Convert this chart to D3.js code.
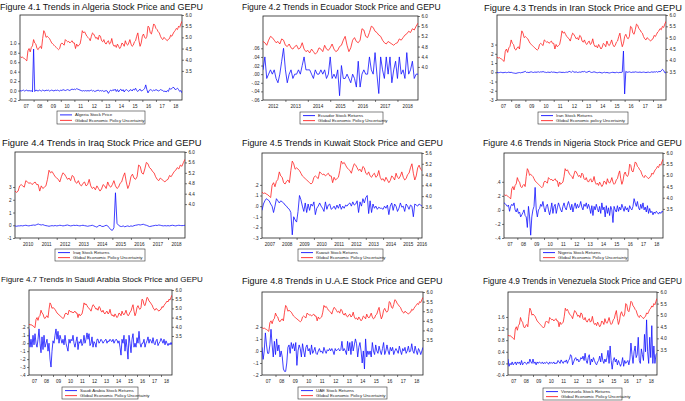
<!DOCTYPE html>
<html><head><meta charset="utf-8">
<script src="https://cdn.jsdelivr.net/npm/d3@7"></script>
<style>body{margin:0;background:#fff}svg{display:block}</style>
</head><body>
<svg id="c" width="685" height="401"></svg>
<script>
// ---------- DATA ----------
// Global Economic Policy Uncertainty (log), monthly 2007-01 .. 2018-12
const gepu = [
4.15,4.10,4.12,4.08,4.05,4.00,3.95,4.40,4.50,4.35,4.55,4.62,
4.90,4.75,4.70,4.50,4.45,4.55,4.60,4.50,4.95,5.30,5.20,5.00,
5.05,5.00,4.95,4.85,4.75,4.70,4.65,4.60,4.55,4.50,4.45,4.50,
4.70,4.75,4.70,4.65,4.90,4.85,4.80,4.82,4.75,4.80,4.85,4.75,
4.75,4.50,4.70,4.60,4.65,4.70,4.95,5.30,5.20,5.25,5.15,5.05,
5.00,4.95,4.85,5.05,5.20,5.15,5.05,4.95,5.00,4.90,5.10,5.05,
4.85,4.80,4.90,4.75,4.70,4.80,4.85,4.70,4.75,4.95,4.70,4.60,
4.65,4.55,4.70,4.60,4.50,4.58,4.75,4.70,4.60,4.85,4.70,4.65,
4.75,4.90,4.70,4.60,4.65,4.80,4.85,5.05,5.20,4.85,4.60,4.75,
5.05,5.15,5.00,4.95,5.05,5.50,5.45,5.20,5.15,5.35,5.60,5.55,
5.40,5.35,5.25,5.20,5.05,4.95,4.90,5.00,4.95,4.90,4.85,4.92,
4.95,5.10,5.05,5.15,5.25,5.30,5.40,5.35,5.50,5.45,5.60,5.72];

// Algeria stock price, 2007-01 .. 2018-12
const algeria = [
0.00,-0.01,0.00,0.01,-0.01,0.00,0.01,-0.01,0.00,-0.01,0.00,-0.03,
0.88,-0.02,0.01,0.00,-0.01,0.01,0.00,-0.01,0.01,0.00,-0.01,0.01,
0.00,0.01,-0.01,0.00,0.01,0.00,-0.01,0.01,0.00,0.01,0.00,-0.01,
0.01,0.00,0.02,0.01,0.00,0.01,0.02,0.01,0.00,0.02,0.03,0.02,
0.03,0.02,0.04,0.03,0.02,0.01,0.00,-0.01,0.00,-0.01,0.00,-0.01,
0.00,-0.01,0.00,0.01,-0.01,0.00,-0.02,-0.01,0.00,0.01,-0.01,0.00,
-0.01,0.00,-0.02,-0.01,0.00,-0.01,-0.06,-0.02,0.01,-0.01,0.02,0.00,
0.03,-0.02,0.02,-0.03,0.01,0.03,-0.01,0.02,-0.03,0.01,0.02,0.00,
-0.02,0.01,0.02,-0.01,0.03,0.01,0.05,0.00,-0.02,0.01,0.03,-0.01,
0.00,0.02,0.04,0.12,0.02,-0.05,0.00,0.02,0.01,-0.01,0.01,0.00,
0.02,0.01,-0.01,0.00,0.02,0.01,0.00,-0.02,-0.01,-0.03,0.00,-0.02,
0.05,0.03,0.04,0.07,0.06,0.02,0.03,0.05,0.02,-0.02,0.00,-0.05];

// Ecuador stock returns, 2012-01 .. 2018-12
const ecuador = [
.01,.04,-.01,.00,.01,.00,.01,-.01,-.02,.00,.03,.06,
.01,-.02,.00,.01,-.01,.00,.00,.01,.00,.02,.04,.01,
.01,.01,.00,-.01,.01,.00,.00,.01,.00,.01,-.01,.00,
.04,-.01,.00,-.01,.01,-.05,.02,-.01,-.01,.00,-.01,-.02,
.00,-.01,-.03,.03,-.03,.00,.01,.00,.00,.04,.01,.00,
.05,.00,-.045,.04,.01,-.01,.04,.00,.04,-.02,.01,.03,
-.01,.04,.00,.01,-.01,.05,.00,.01,.03,-.01,.00,.00];

// Iran stock returns, 2007-01 .. 2018-12
const iran = [
.00,-.05,-.03,.00,-.02,-.05,-.03,.00,-.04,-.02,.02,-.03,
.00,-.05,-.08,-.10,-.12,-.08,-.05,-.03,-.06,-.02,.00,.05,
.10,-.02,.00,-.03,.02,.05,.00,-.02,.03,.00,.02,.05,
.00,.05,.03,.08,.02,.00,-.03,.02,.00,-.02,.05,.00,
.02,.00,-.03,-.05,.00,.02,.00,-.02,.00,-.03,.00,.02,
.00,.10,.05,.00,.12,.03,.00,.05,-.02,.00,.03,.00,
.08,.05,.10,.02,.00,.05,.12,.03,-.02,.00,.05,.02,
-.03,-.05,-.02,.00,-.05,-.08,-.03,.00,-.05,-.02,-.05,-.08,
-.05,-.02,.00,-.03,-.05,.00,-.02,-.05,.00,-.03,.02,2.30,
-2.35,.10,.00,.02,.05,.00,-.02,.03,.00,.05,.02,.00,
.00,.03,-.02,.00,.02,.00,-.03,.00,.02,-.02,.00,.05,
.00,.05,.02,.08,.00,.10,.05,.15,.32,.20,-.05,-.05];

// Iraq stock returns, 2009-10 .. 2018-12
const iraq = [
-.05,-.08,-.05,
-.05,-.03,-.05,-.02,.00,-.03,-.05,-.02,.00,.02,.00,.05,
.10,.05,.02,.05,.00,-.03,-.05,-.08,-.05,-.03,-.05,-.02,
-.05,-.03,.00,-.02,-.05,-.03,.00,.02,-.02,-.05,-.03,.00,
-.02,.00,-.03,-.05,-.02,.00,-.03,-.05,-.08,-.05,-.03,.00,
-.05,-.10,-.15,-.05,.00,-.08,-.10,-.05,.00,-.05,-.20,-.35,
-.40,-.20,2.55,.15,.00,-.08,-.10,-.05,-.12,-.08,-.05,-.10,
-.05,-.08,-.03,.00,.02,.05,.02,.05,.08,.03,.00,-.05,
-.10,-.08,-.05,-.03,.00,-.02,.02,.00,-.03,-.05,-.03,-.05,
-.03,-.05,-.02,.00,-.03,-.05,-.02,.00,-.02,-.03,-.02,.00];

// Kuwait stock returns, 2007-01 .. 2016-04
const kuwait = [
-.04,.02,.05,.07,.06,.05,.02,.00,-.06,.00,.07,.05,
.03,.05,.04,.03,.01,.00,-.02,-.03,-.06,-.27,-.10,-.13,
-.15,-.05,.10,.06,.00,-.05,.03,-.06,.02,-.04,.02,.00,
.04,-.08,-.02,.00,.03,.00,-.02,-.05,.04,-.03,.01,.02,
-.03,-.02,.00,-.03,.01,-.02,.02,-.03,.00,-.02,.01,.00,
.02,.03,.00,.04,.01,.02,.05,-.06,.04,.00,.07,.03,
.08,.10,-.07,.05,-.06,.02,-.02,.00,-.03,-.01,-.02,-.02,
-.03,.00,-.02,.01,-.08,.00,.03,-.04,.02,.00,-.05,-.02,
.03,-.01,.00,-.05,.02,.00,-.03,.01,.00,-.10,.02,.01,
.00,.02,.01,.00];

// Nigeria stock returns, 2007-01 .. 2018-12
const nigeria = [
.10,.09,.07,.05,.07,-.02,.05,.08,.06,.10,.00,-.03,
.02,-.05,-.03,-.10,-.07,-.04,.00,-.08,-.10,-.25,.05,-.10,
-.36,-.10,.00,.05,.32,.00,-.10,.00,.02,.08,.05,.12,
.03,-.03,.05,.08,.00,-.07,.00,.10,-.05,.05,.08,-.05,
.03,.10,.05,.00,-.03,.05,.10,.03,.00,.07,.12,.06,
.00,.08,-.03,.05,.10,.02,.08,.03,.06,.12,.04,.00,
.08,.05,.10,.02,.08,.03,-.05,.06,-.08,.05,.00,.08,
.02,-.03,.05,-.05,.10,.00,.04,-.10,.06,-.05,.03,-.08,
.05,.00,-.18,.05,.00,-.03,.06,-.02,.04,.00,.08,.03,
-.02,.05,.00,.03,-.03,.06,.02,.00,.05,.16,.10,.05,
.12,.03,.00,.08,.02,.10,.00,.04,-.03,.06,-.05,.02,
-.04,-.02,-.07,-.03,-.05,-.02,-.04,-.06,-.03,-.05,-.02,-.03];

// Saudi Arabia stock returns, 2007-01 .. 2018-12
const saudi = [
.18,-.05,.05,-.05,.10,-.02,.12,.00,-.05,.05,.18,.00,
-.12,.08,-.08,.10,-.05,.00,.05,-.10,.00,-.20,-.30,-.10,
.03,.00,.10,.18,.05,.15,.00,.10,.05,.00,.05,-.02,
.10,.00,-.05,-.10,.05,.00,.05,.03,.10,.00,-.05,.02,
.08,-.08,.02,.00,.05,-.03,.00,.10,.00,.05,.13,.05,
.12,-.03,.00,.08,-.05,.02,.00,-.05,.05,.05,.00,.02,
.05,.03,.00,.02,.04,.05,.00,.03,.02,.05,.03,.02,
.05,.00,.03,.05,.04,.00,.03,-.05,-.15,.05,.00,.10,
-.10,.05,-.05,-.20,.10,.00,-.12,.05,.12,-.05,.00,-.05,
.07,.00,.15,.00,-.05,.00,.00,.05,-.05,.00,.03,.08,
.00,.05,.03,.00,.07,.00,-.02,.03,.05,-.03,.00,.02,
.06,.03,.00,.05,-.02,.03,.00,-.03,.00,-.02,.01,-.02];

// UAE stock returns, 2007-01 .. 2018-12
const uae = [
.03,-.07,.00,.15,.05,-.02,-.02,.05,.18,.05,-.05,.08,
-.03,.10,.00,.05,-.05,.00,-.05,-.15,-.17,-.17,-.10,.03,
.05,-.02,.07,.02,.06,.00,.07,-.12,.00,.05,.02,-.05,
.06,.00,-.05,.03,.05,.00,.02,-.03,.05,-.02,.00,.03,
-.02,-.03,.00,.02,-.01,.00,-.02,.03,.00,-.02,.01,.00,
.02,.00,.02,.00,-.03,.02,.00,.01,.02,.00,.01,.08,
.00,.02,.00,-.03,.08,.00,.07,-.03,.08,.00,.05,.10,
.06,-.05,.03,.07,.00,-.10,.00,-.15,.10,-.05,.00,-.03,
.00,-.05,.07,.00,-.03,.05,.00,-.02,.04,.00,-.03,.02,
.07,-.03,.00,.05,.00,-.03,.03,.00,.03,-.03,.00,.02,
.00,-.02,.04,.00,-.03,.02,.00,.03,-.02,.00,.04,-.01,
.00,.06,.00,-.02,.04,.00,-.03,.02,.00,-.03,.00,.03];

// Venezuela stock returns, 2007-01 .. 2018-12
const venezuela = [
.15,-.10,.00,-.05,.05,-.05,.00,.05,-.05,.05,.00,.05,
-.05,.10,-.05,.00,.05,.00,-.03,.05,.00,.15,.05,.00,
.15,.00,.05,-.05,.05,.00,.05,.02,.00,.05,-.02,.03,
.00,.05,.02,-.03,.05,.00,.03,.00,.05,-.02,.02,.00,
.10,.05,.00,.12,.05,.00,.08,.05,.12,.00,.10,.15,
.30,.25,-.05,.05,.15,.20,.10,.15,.05,.10,.20,.15,
.25,.10,.35,.10,.00,.20,.30,-.05,.15,.05,.20,.10,
.00,-.05,.05,.10,.25,.05,.35,.10,.00,.15,.05,.20,
.45,.00,.60,.10,-.20,.10,.20,.05,.15,-.05,.10,.00,
-.10,.00,.20,-.10,.10,.00,.05,.10,-.05,.15,.70,.30,
.00,.40,.60,.20,.30,.90,.10,.00,.50,.30,.10,1.00,
.40,1.50,.40,.00,.90,.20,1.30,.00,.60,.00,.30,.35];

// Axis tick values and labels
const rightTicks35 = [3.5,4.0,4.5,5.0,5.5,6.0];
const rightLabels35 = ["3.5","4.0","4.5","5.0","5.5","6.0"];
const rightTicks40 = [4.0,4.4,4.8,5.2,5.6,6.0];
const rightLabels40 = ["4.0","4.4","4.8","5.2","5.6","6.0"];
const rightTicks36 = [3.6,4.0,4.4,4.8,5.2,5.6];
const rightLabels36 = ["3.6","4.0","4.4","4.8","5.2","5.6"];

const algeriaTicks = [-0.2,0,0.2,0.4,0.6,0.8,1.0];
const algeriaLabels = ["-0.2","0.0","0.2","0.4","0.6","0.8","1.0"];
const ecuadorTicks = [-.06,-.04,-.02,0,.02,.04,.06];
const ecuadorLabels = ["-.06","-.04","-.02",".00",".02",".04",".06"];
const iranTicks = [-3,-2,-1,0,1,2,3];
const iranLabels = ["-3","-2","-1","0","1","2","3"];
const iraqTicks = [-1,0,1,2,3];
const iraqLabels = ["-1","0","1","2","3"];
const kuwaitTicks = [-.3,-.2,-.1,0,.1,.2];
const kuwaitLabels = ["-.3","-.2","-.1",".0",".1",".2"];
const nigeriaTicks = [-.4,-.2,0,.2,.4];
const nigeriaLabels = ["-.4","-.2",".0",".2",".4"];
const saudiTicks = [-.4,-.3,-.2,-.1,0,.1,.2];
const saudiLabels = ["-.4","-.3","-.2","-.1",".0",".1",".2"];
const uaeTicks = [-.2,-.1,0,.1,.2];
const uaeLabels = ["-.2","-.1",".0",".1",".2"];
const venezuelaTicks = [-0.4,0,0.4,0.8,1.2,1.6];
const venezuelaLabels = ["-0.4","0.0","0.4","0.8","1.2","1.6"];

const years0718 = [2007,2008,2009,2010,2011,2012,2013,2014,2015,2016,2017,2018];
const yearLabels2 = ["07","08","09","10","11","12","13","14","15","16","17","18"];
const yearsEcuador = [2012,2013,2014,2015,2016,2017,2018];
const yearsIraq = [2010,2011,2012,2013,2014,2015,2016,2017,2018];
const yearsKuwait = [2007,2008,2009,2010,2011,2012,2013,2014,2015,2016];

const titles = [
"Figure 4.1 Trends in Algeria Stock Price and GEPU",
"Figure 4.2 Trends in Ecuador Stock Price and GEPU",
"Figure 4.3 Trends in Iran Stock Price and GEPU",
"Figure 4.4 Trends in Iraq Stock Price and GEPU",
"Figure 4.5 Trends in Kuwait Stock Price and GEPU",
"Figure 4.6 Trends in Nigeria Stock Price and GEPU",
"Figure 4.7 Trends in Saudi Arabia Stock Price and GEPU",
"Figure 4.8 Trends in U.A.E Stock Price and GEPU",
"Figure 4.9 Trends in Venezuela Stock Price and GEPU"];
const stockNames = ["Algeria Stock Price","Ecuador Stock Returns","Iran Stock Returns",
"Iraq Stock Returns","Kuwait Stock Returns","Nigeria Stock Returns",
"Saudi Arabia Stock Returns","UAE Stock Returns","Venezuela Stock Returns"];
const gepuNames = ["Global Economic Policy Uncertainty","Global Economic Policy Uncertainty",
"Global Economic policy Uncertainty","Global Economic Policy Uncertainty",
"Global Economic Policy Uncertainty","Global Economic Policy Uncertainty",
"Global Economic Policy Uncertainty","Global Economic Policy Uncertainty",
"Global Economic Policy Uncertainty"];

// ---------- PANEL SETUP ----------
const panels = [
 {stock:algeria, start:[2007,0], lT:algeriaTicks, lL:algeriaLabels, lD:[-0.2,1.6], rT:rightTicks35, rL:rightLabels35, rD:[2.2,6.0], years:years0718, yl:yearLabels2,
  box:[20,182,15,100], title:[0,10,203], leg:[57,111,88,13]},
 {stock:ecuador, start:[2012,0], lT:ecuadorTicks, lL:ecuadorLabels, lD:[-0.06,0.135], rT:rightTicks40, rL:rightLabels40, rD:[2.7,6.0], years:yearsEcuador, yl:yearsEcuador.map(String),
  box:[263,418,16,100], title:[242,10,199], leg:[300,112,83,12]},
 {stock:iran, start:[2007,0], lT:iranTicks, lL:iranLabels, lD:[-3,6.2], rT:rightTicks35, rL:rightLabels35, rD:[2.25,6.0], years:years0718, yl:yearLabels2,
  box:[497,666,15,100], title:[484,11,198], leg:[538,112,90,12]},
 {stock:iraq, start:[2009,9], lT:iraqTicks, lL:iraqLabels, lD:[-1,5.75], rT:rightTicks40, rL:rightLabels40, rD:[2.7,6.0], years:yearsIraq, yl:yearsIraq.map(String),
  box:[15,185,152,238], title:[2,146,200], leg:[55,249,90,12]},
 {stock:kuwait, start:[2007,0], lT:kuwaitTicks, lL:kuwaitLabels, lD:[-0.3,0.5], rT:rightTicks36, rL:rightLabels36, rD:[2.45,5.6], years:yearsKuwait, yl:yearsKuwait.map(String),
  box:[262,422,153,238], title:[242,146,201], leg:[298,249,85,12]},
 {stock:nigeria, start:[2007,0], lT:nigeriaTicks, lL:nigeriaLabels, lD:[-0.4,0.81], rT:rightTicks35, rL:rightLabels35, rD:[2.2,6.0], years:years0718, yl:yearLabels2,
  box:[504,663,153,238], title:[483,146,199], leg:[540,249,88,12]},
 {stock:saudi, start:[2007,0], lT:saudiTicks, lL:saudiLabels, lD:[-0.4,0.67], rT:rightTicks35, rL:rightLabels35, rD:[1.38,6.0], years:years0718, yl:yearLabels2,
  box:[29,172,290,375], title:[1,282,202], leg:[62,387,76,12]},
 {stock:uae, start:[2007,0], lT:uaeTicks, lL:uaeLabels, lD:[-0.2,0.49], rT:rightTicks35, rL:rightLabels35, rD:[1.68,6.0], years:years0718, yl:yearLabels2,
  box:[262,423,292,375], title:[242,284,201], leg:[298,387,89,12]},
 {stock:venezuela, start:[2007,0], lT:venezuelaTicks, lL:venezuelaLabels, lD:[-0.4,2.46], rT:rightTicks35, rL:rightLabels35, rD:[2.42,6.0], years:years0718, yl:yearLabels2,
  box:[508,657,292,375], title:[483,284,199], leg:[543,388,79,12]}
];

const svg = d3.select("#c");
const FONT = "Liberation Sans, Arial, Helvetica, sans-serif";
const BLUE = "#1010ff", RED = "#ff2020";

panels.forEach((p, pi) => {
  const [x0, x1, y0, y1] = p.box;
  const n = p.stock.length;
  const gStart = (p.start[0] - 2007) * 12 + p.start[1];
  const red = gepu.slice(gStart, gStart + n);
  const x = d3.scaleLinear().domain([0, n - 1]).range([x0, x1]);
  const yl = d3.scaleLinear().domain(p.lD).range([y1, y0]);
  const yr = d3.scaleLinear().domain(p.rD).range([y1, y0]);
  const g = svg.append("g");

  // title: scale the font so the natural width fits the target width
  const t = g.append("text").attr("x", p.title[0]).attr("y", p.title[1])
    .attr("font-family", FONT).attr("font-size", 10).attr("fill", "#111")
    .text(titles[pi]);
  const w = t.node().getComputedTextLength();
  t.attr("font-size", Math.min(10, 10 * p.title[2] / w).toFixed(2));

  // frame
  g.append("rect").attr("x", x0).attr("y", y0).attr("width", x1 - x0).attr("height", y1 - y0)
    .attr("fill", "none").attr("stroke", "#222").attr("stroke-width", 0.8);

  // lines
  const clipId = "clip" + pi;
  g.append("clipPath").attr("id", clipId).append("rect")
    .attr("x", x0).attr("y", y0).attr("width", x1 - x0).attr("height", y1 - y0);
  g.append("path").datum(red).attr("clip-path", `url(#${clipId})`)
    .attr("fill", "none").attr("stroke", RED).attr("stroke-width", 0.8)
    .attr("d", d3.line().x((d, i) => x(i)).y(d => yr(d)));
  g.append("path").datum(p.stock).attr("clip-path", `url(#${clipId})`)
    .attr("fill", "none").attr("stroke", BLUE).attr("stroke-width", 0.8)
    .attr("d", d3.line().x((d, i) => x(i)).y(d => yl(d)));

  // left axis
  const la = g.append("g").attr("transform", `translate(${x0},0)`)
    .call(d3.axisLeft(yl).tickValues(p.lT).tickFormat((d, i) => p.lL[i]).tickSize(2).tickPadding(1.5));
  // right axis
  const ra = g.append("g").attr("transform", `translate(${x1},0)`)
    .call(d3.axisRight(yr).tickValues(p.rT).tickFormat((d, i) => p.rL[i]).tickSize(2).tickPadding(1.5));
  [la, ra].forEach(a => {
    a.select(".domain").remove();
    a.selectAll("line").attr("stroke", "#222").attr("stroke-width", 0.6);
    a.selectAll("text").attr("font-family", FONT).attr("font-size", 4.6).attr("fill", "#222");
  });

  // bottom year ticks and labels
  const yrIdx = p.years.map(yv => (yv - p.start[0]) * 12 - p.start[1]);
  const bx = d3.scaleLinear().domain([0, n - 1]).range([x0, x1]);
  const bottom = g.append("g").attr("transform", `translate(0,${y1})`)
    .call(d3.axisBottom(bx).tickValues(yrIdx.filter(v => v > 0 && v < n - 1)).tickFormat("").tickSize(2));
  bottom.select(".domain").remove();
  bottom.selectAll("line").attr("stroke", "#222").attr("stroke-width", 0.6);
  p.years.forEach((yv, k) => {
    const c = Math.max(0, Math.min(n - 1, yrIdx[k] + 5.5));
    g.append("text").attr("x", bx(c)).attr("y", y1 + 8).attr("text-anchor", "middle")
      .attr("font-family", FONT).attr("font-size", 4.6).attr("fill", "#222").text(p.yl[k]);
  });

  // legend
  const [lx, ly, lw, lh] = p.leg;
  const lg = g.append("g");
  lg.append("rect").attr("x", lx).attr("y", ly).attr("width", lw).attr("height", lh)
    .attr("fill", "#fff").attr("stroke", "#333").attr("stroke-width", 0.6);
  [[stockNames[pi], BLUE], [gepuNames[pi], RED]].forEach(([tx, col], k) => {
    const cy = ly + lh * (k === 0 ? 0.3 : 0.72);
    lg.append("line").attr("x1", lx + 3).attr("x2", lx + 15).attr("y1", cy).attr("y2", cy)
      .attr("stroke", col).attr("stroke-width", 0.9);
    lg.append("text").attr("x", lx + 18).attr("y", cy + 1.5)
      .attr("font-family", FONT).attr("font-size", 4.4).attr("fill", "#222").text(tx);
  });
});
</script>
</body></html>
